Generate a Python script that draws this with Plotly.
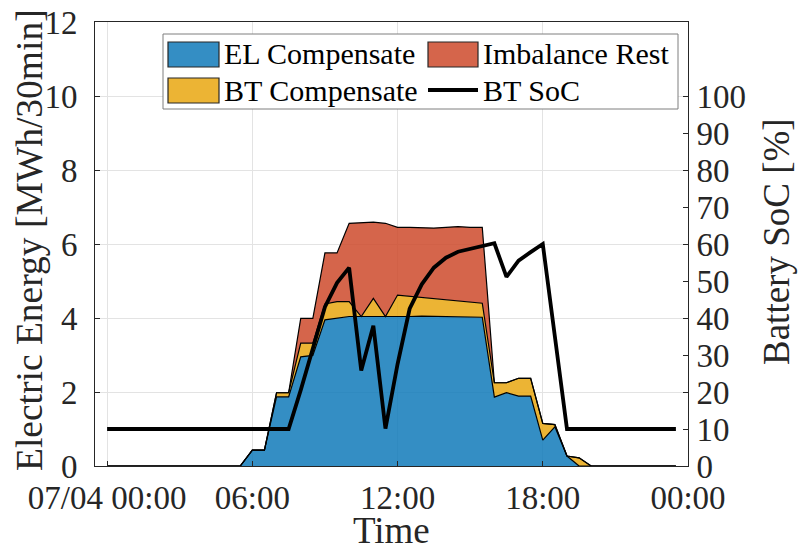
import plotly.graph_objects as go
import pandas as pd

# ---- data (half-hourly, 07/04 00:00 .. 23:30) ----
times = pd.date_range("2023-07-04 00:00", periods=48, freq="30min")

el_comp = [0]*12 + [0.43, 0.43, 1.87, 1.87, 2.95, 2.99, 3.95, 3.99,
                    4.04, 4.04, 4.04, 4.04, 4.02, 4.04, 4.05, 4.04,
                    4.04, 4.03, 4.03, 4.02, 1.86, 1.98, 1.89, 1.89,
                    0.70, 1.06, 0.27, 0.0] + [0]*8
bt_comp = [0]*14 + [0.11, 0.11, 0.37, 0.33, 0.43, 0.45, 0.40, 0.0,
                    0.49, 0.0, 0.60, 0.55, 0.51, 0.48, 0.45, 0.43,
                    0.40, 0.38, 0.39, 0.27, 0.48, 0.48, 0.45, 0.06,
                    0.0, 0.22] + [0]*8
imb_rest = [0]*16 + [0.67, 0.67, 1.38, 1.32, 2.12, 2.53, 2.06, 2.52,
                     1.83, 1.86, 1.88, 1.91, 1.96, 2.01, 2.02, 2.05] + [0]*16
bt_soc = [10]*16 + [20.5, 31.5, 43.0, 49.5, 53.6, 25.8, 37.9, 10.1,
                    27.5, 42.5, 49.1, 53.6, 56.3, 57.9, 58.7, 59.5,
                    60.2, 51.1, 55.5, 57.8, 60.0, 35.0, 10.0] + [10]*9

x_tickvals = ["2023-07-04 00:00", "2023-07-04 06:00", "2023-07-04 12:00",
              "2023-07-04 18:00", "2023-07-05 00:00"]
x_ticktext = ["07/04 00:00", "06:00", "12:00", "18:00", "00:00"]
y_ticks = [0, 2, 4, 6, 8, 10, 12]
y2_ticks = list(range(0, 101, 10))

x_title = "Time"
y_title = "Electric Energy [MWh/30min]"
y2_title = "Battery SoC [%]"

FONT = "Liberation Serif, Times New Roman, serif"
AX = "#262626"
C_BLUE = "rgba(16,122,186,0.85)"
C_RED = "rgba(206,74,43,0.85)"
C_YEL = "rgba(233,167,16,0.85)"

fig = go.Figure()
fig.add_trace(go.Scatter(x=times, y=el_comp, name="EL Compensate", stackgroup="e",
                         mode="lines", line=dict(color="black", width=1.2),
                         fillcolor=C_BLUE, showlegend=False))
fig.add_trace(go.Scatter(x=times, y=bt_comp, name="BT Compensate", stackgroup="e",
                         mode="lines", line=dict(color="black", width=1.2),
                         fillcolor=C_YEL, showlegend=False))
fig.add_trace(go.Scatter(x=times, y=imb_rest, name="Imbalance Rest", stackgroup="e",
                         mode="lines", line=dict(color="black", width=1.2),
                         fillcolor=C_RED, showlegend=False))
fig.add_trace(go.Scatter(x=times, y=bt_soc, name="BT SoC", yaxis="y2",
                         mode="lines", line=dict(color="black", width=3.8),
                         showlegend=False))

fig.update_layout(
    width=798, height=551,
    margin=dict(l=95, r=110, t=22, b=85),
    paper_bgcolor="white", plot_bgcolor="white",
    font=dict(family=FONT, size=33, color=AX),
    xaxis=dict(
        type="date", automargin=False,
        range=["2023-07-03 23:30", "2023-07-05 00:00"],
        tickvals=x_tickvals, ticktext=x_ticktext,
        tickfont=dict(family=FONT, size=33, color=AX),
        ticks="inside", ticklen=5, tickcolor=AX,
        showline=True, linecolor=AX, linewidth=1, mirror=True,
        showgrid=True, gridcolor="#e3e3e3", gridwidth=1,
        zeroline=False, ticklabelstandoff=2,
    ),
    yaxis=dict(
        range=[0, 12], tickvals=y_ticks, automargin=False,
        tickfont=dict(family=FONT, size=33, color=AX),
        ticks="inside", ticklen=5, tickcolor=AX,
        showline=True, linecolor=AX, linewidth=1,
        showgrid=True, gridcolor="#e3e3e3", gridwidth=1,
        zeroline=False, ticklabelstandoff=10,
    ),
    yaxis2=dict(
        range=[0, 120], tickvals=y2_ticks, overlaying="y", side="right",
        automargin=False,
        tickfont=dict(family=FONT, size=33, color=AX),
        ticks="inside", ticklen=5, tickcolor=AX,
        showline=True, linecolor=AX, linewidth=1,
        showgrid=False, zeroline=False, ticklabelstandoff=1,
    ),
)

# ---- pixel -> paper helpers ----
W, H = 593.0, 444.0
def px(x):
    return (x - 95) / W
def py(y):
    return (466 - y) / H

# axis titles placed as annotations for exact MATLAB-like positions
annotations = [
    dict(text=x_title, xref="paper", yref="paper", x=px(391.5), y=py(530),
         xanchor="center", yanchor="middle", showarrow=False,
         font=dict(family=FONT, size=37, color=AX)),
    dict(text=y_title, xref="paper", yref="paper", x=px(29), y=py(240),
         xanchor="center", yanchor="middle", showarrow=False, textangle=-90,
         font=dict(family=FONT, size=37.5, color=AX)),
    dict(text=y2_title, xref="paper", yref="paper", x=px(776), y=py(242),
         xanchor="center", yanchor="middle", showarrow=False, textangle=-90,
         font=dict(family=FONT, size=37, color=AX)),
]

# ---- manual legend (two columns, MATLAB-like) ----
shapes = [
    dict(type="rect", xref="paper", yref="paper", x0=px(163), x1=px(678),
         y0=py(109), y1=py(34), fillcolor="white",
         line=dict(color="#7f7f7f", width=1), layer="above"),
    dict(type="rect", xref="paper", yref="paper", x0=px(168), x1=px(219),
         y0=py(67), y1=py(42), fillcolor=C_BLUE, line=dict(color=AX, width=1.2)),
    dict(type="rect", xref="paper", yref="paper", x0=px(168), x1=px(219),
         y0=py(103), y1=py(78), fillcolor=C_YEL, line=dict(color=AX, width=1.2)),
    dict(type="rect", xref="paper", yref="paper", x0=px(428), x1=px(478),
         y0=py(67), y1=py(42), fillcolor=C_RED, line=dict(color=AX, width=1.2)),
    dict(type="line", xref="paper", yref="paper", x0=px(428), x1=px(478),
         y0=py(90), y1=py(90), line=dict(color="black", width=3.8)),
]
legend_items = [("EL Compensate", 222, 53.5), ("BT Compensate", 222, 90),
                ("Imbalance Rest", 481, 53.5), ("BT SoC", 481, 90)]
annotations += [
    dict(text=t, xref="paper", yref="paper", x=px(xx), y=py(yy),
         xanchor="left", yanchor="middle", showarrow=False,
         font=dict(family=FONT, size=30, color="black"))
    for t, xx, yy in legend_items
]
fig.update_layout(shapes=shapes, annotations=annotations)

fig.write_html("out.html")
